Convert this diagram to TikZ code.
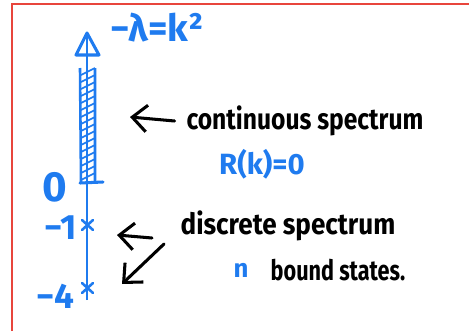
\documentclass[tikz,border=0pt]{standalone}
\usepackage{fontspec}
\setmainfont{Fira Sans}
\usetikzlibrary{arrows.meta}
\definecolor{penblue}{HTML}{1F7BEF}
\definecolor{framered}{HTML}{E8453C}

\begin{document}
\begin{tikzpicture}[x=0.03cm,y=-0.03cm,
  penline/.style={line width=2.6pt,line cap=round,line join=round},
  pentext/.style={inner sep=0pt,font=\bfseries\fontsize{25}{28}\selectfont},
  bluetext/.style={pentext,text=penblue},
  pointer/.style={penline,-{Straight Barb[length=4.4mm,width=8mm,line width=2.6pt]}}]
  \useasboundingbox (0,0) rectangle (469,331);
  % frame
  \draw[framered,line width=1.4pt] (12,331) -- (12,4) -- (469,4);
  % axis
  \coordinate (axbot) at (87,300);
  \coordinate (axtop) at (87,36);
  \draw[penblue,line width=1.4pt] (axbot) -- (axtop);
  \draw[penline,penblue] (76,55) -- (87,33) -- (99,55) -- cycle;
  % continuous part, hatched
  \draw[penblue,line width=2.2pt] (80,68) -- (81,183) (95,68) -- (95,183);
  \foreach \y in {75,82,...,180}
    \draw[penblue,line width=1.5pt] (81,\y) -- (95,\y-7);
  \draw[penline,penblue] (80,183) -- (103,182);
  % bound states
  \foreach \y in {225,288}
    \draw[penblue,line width=2.2pt,line cap=round] (82,\y-5) -- (93,\y+5) (93,\y-5) -- (82,\y+5);
  \node[bluetext,font=\bfseries\fontsize{36}{40}\selectfont] (lab0) at (55,187) {0};
  \node[bluetext,font=\bfseries\fontsize{30}{34}\selectfont] (lab1) at (61,228) {−1};
  \node[bluetext,font=\bfseries\fontsize{30}{34}\selectfont] (lab4) at (55,296) {−4};
  \node[bluetext,font=\bfseries\fontsize{32}{36}\selectfont] (axlab) at (157,28) {−λ=k²};
  % labels
  \node[pentext] (cont) at (305,121) {\scalebox{0.84}[1]{continuous spectrum}};
  \node[bluetext] (refl) at (262,164) {R(k)=0};
  \node[pentext] (disc) at (288,226) {\scalebox{0.89}[1]{discrete spectrum}};
  \node[bluetext,font=\bfseries\fontsize{22}{26}\selectfont] (nnum) at (241,270) {n};
  \node[pentext,font=\bfseries\fontsize{24}{28}\selectfont] (bound) at (338,270) {\scalebox{0.77}[1]{bound states.}};
  % pointers
  \coordinate (conttip) at (130,117);
  \coordinate (dtail1) at (152,238);
  \coordinate (dtip1) at (117,235);
  \coordinate (dtail2) at (164,244);
  \coordinate (dtip2) at (122,284);
  \draw[pointer] ([xshift=-10pt]cont.west) -- (conttip);
  \draw[pointer] (dtail1) -- (dtip1);
  \draw[pointer] (dtail2) -- (dtip2);
\end{tikzpicture}
\end{document}
